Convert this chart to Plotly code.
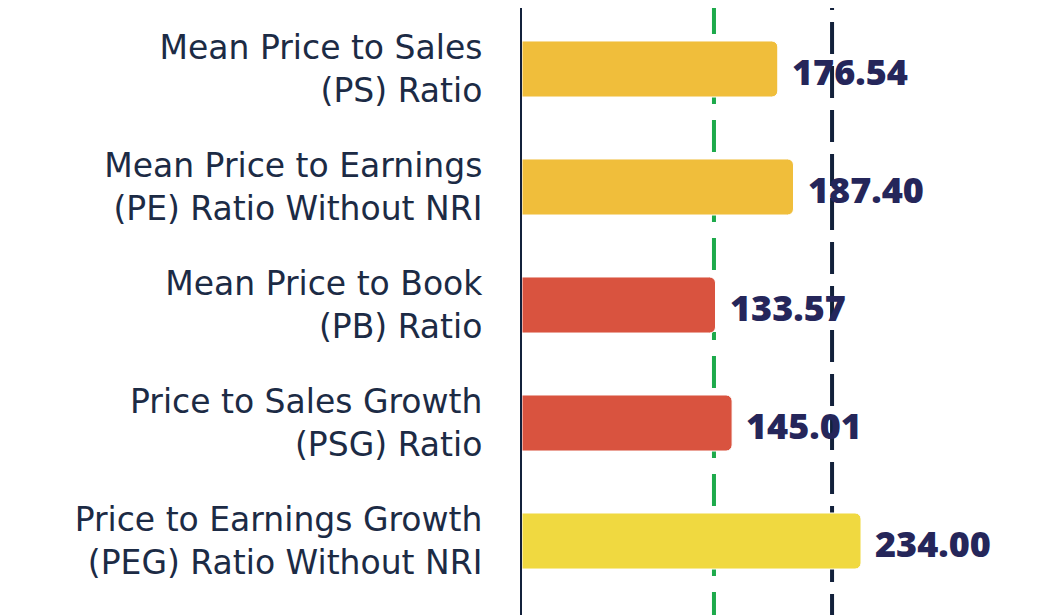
import plotly.graph_objects as go

# ratio names (top to bottom) and their values
ratios = [
    "Mean Price to Sales<br>(PS) Ratio",
    "Mean Price to Earnings<br>(PE) Ratio Without NRI",
    "Mean Price to Book<br>(PB) Ratio",
    "Price to Sales Growth<br>(PSG) Ratio",
    "Price to Earnings Growth<br>(PEG) Ratio Without NRI",
]
values = [176.54, 187.40, 133.57, 145.01, 234.00]
bar_colors = ["#F0BE3B", "#F0BE3B", "#D9533F", "#D9533F", "#F0D940"]

# reference levels drawn as dashed lines
low_mark = 132.5
high_mark = 214.0

navy = "#13213B"
label_navy = "#25265A"

fig = go.Figure()
fig.add_trace(go.Bar(
    x=values,
    y=ratios,
    orientation="h",
    marker=dict(color=bar_colors, cornerradius=6,
                line=dict(color="white", width=1)),
    hoverinfo="x+y",
))

# value labels right of each bar
for r, v in zip(ratios, values):
    fig.add_annotation(
        x=v, y=r, text=f"{v:.2f}", showarrow=False,
        xanchor="left", xshift=12, yshift=-2,
        font=dict(family="Open Sans", size=36, color=label_navy, weight=800),
    )

fig.add_shape(type="line", xref="x", yref="paper", x0=low_mark, x1=low_mark,
              y0=1, y1=0, layer="below",
              line=dict(color="#1DAA4B", width=4, dash="26px,62px,8px,16px,6px,0px"))
fig.add_shape(type="line", xref="x", yref="paper", x0=high_mark, x1=high_mark,
              y0=1, y1=0, layer="below",
              line=dict(color=navy, width=4, dash="2px,12px,30px,0px"))

# page body has an 8px margin, so the figure is a little smaller than the window
fig.update_layout(
    width=1055, height=607,
    margin=dict(l=514, r=0, t=0, b=0),
    paper_bgcolor="white", plot_bgcolor="white",
    showlegend=False,
    bargap=0.525,
    font=dict(family="DejaVu Sans", size=33, color="#1C2B45"),
    xaxis=dict(range=[0, 373.4], showgrid=False, zeroline=False,
               showticklabels=False, fixedrange=True),
    yaxis=dict(range=[4.627, -0.517], showgrid=False, zeroline=False,
               showline=True, linecolor=navy, linewidth=2,
               ticks="", ticklabelstandoff=31, fixedrange=True),
)

fig.write_html("out.html")
